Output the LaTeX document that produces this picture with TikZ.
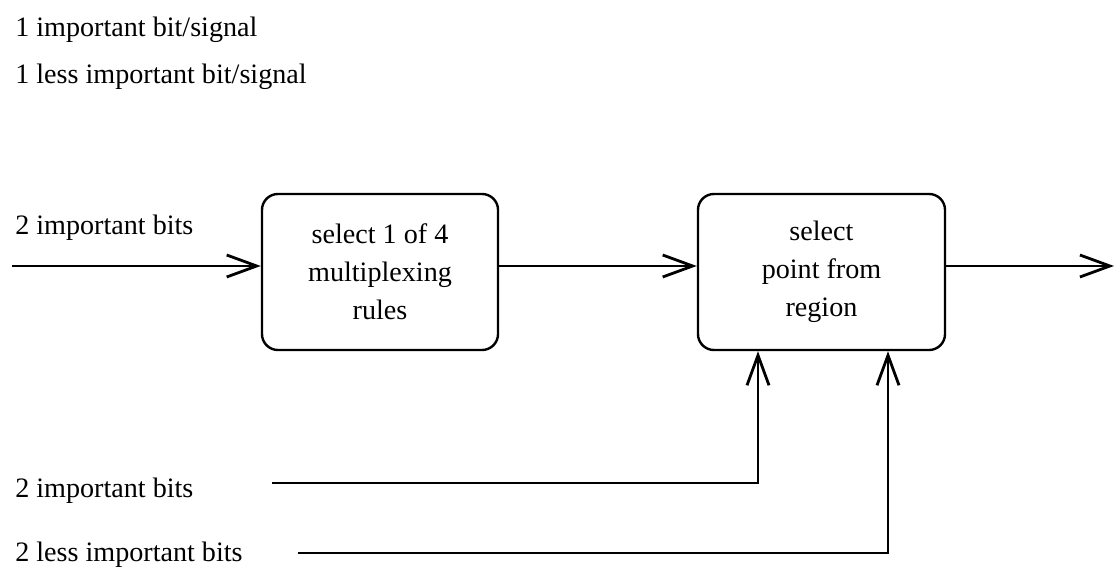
\documentclass[tikz,border=0pt]{standalone}
\usepackage{fontspec}
\setmainfont{Liberation Serif}
\usetikzlibrary{arrows.meta,positioning}
\tikzset{
	block/.style={draw, line width=0.6mm, rounded corners=0.4cm, minimum width=5.9cm, minimum height=3.9cm, align=center, font=\fontsize{20}{27}\selectfont},
	label/.style={anchor=west, inner sep=0pt, font=\fontsize{20}{24}\selectfont},
	sig/.style={line width=0.65mm, -{Straight Barb[length=0.75cm, width=0.55cm, line width=0.7mm]}},
	wire/.style={line width=0.65mm}
}
\begin{document}
\begin{tikzpicture}[x=0.025cm, y=-0.025cm]
			%%%%% START %%%%%
			\useasboundingbox (0, 0) rectangle (1118, 576);
			
			\node[label] (imp) at (15, 30) {1 important bit/signal};
			\node[label] (less) at (15, 77) {1 less important bit/signal};
			
			\node[block] (mux) at (380, 272) {select 1 of 4\\multiplexing\\rules};
			\node[block, minimum width=6.175cm] (reg) at (821.5, 272) {select\\point from\\region};
			
			\node[label] (inA) at (15, 228) {2 important bits};
			\node[label] (inB) at (15, 491) {2 important bits};
			\node[label] (inC) at (15, 555) {2 less important bits};
			
			\coordinate (start) at (12, 266);
			\coordinate (stop) at (1114, 266);
			\coordinate (wB) at (272, 483);
			\coordinate (wC) at (298, 553);
			
			\draw[sig] (start) -- (start -| mux.west);
			\draw[sig] (start -| mux.east) -- (start -| reg.west);
			\draw[sig] (start -| reg.east) -- (stop);
			
			\draw[sig] (wB) -| ([xshift=-63.5*0.025cm]reg.south);
			\draw[sig] (wC) -| ([xshift=66.5*0.025cm]reg.south);
			
			%%%%% END %%%%%
		\end{tikzpicture}
\end{document}
